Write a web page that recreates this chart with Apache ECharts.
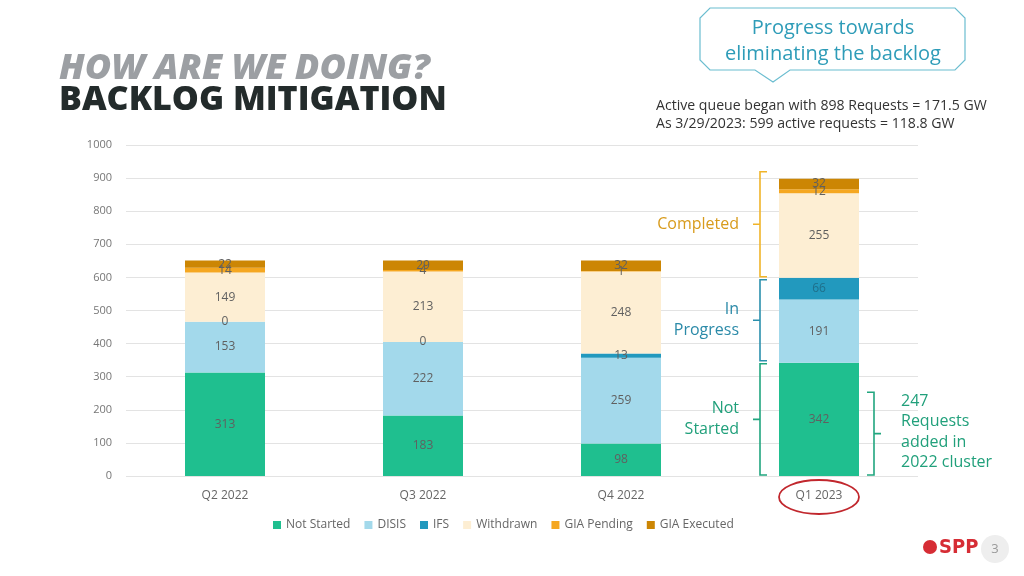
<!DOCTYPE html>
<html><head><meta charset="utf-8">
<script src="https://cdn.jsdelivr.net/npm/echarts@6/dist/echarts.min.js"></script>
<style>html,body{margin:0;padding:0;background:#fff}#c{width:1024px;height:576px}</style>
</head><body><div id="c"></div>
<script>
const categories = ['Q2 2022','Q3 2022','Q4 2022','Q1 2023'];
const notStarted = [313,183,98,342];
const disis = [153,222,259,191];
const ifs = [0,0,13,66];
const withdrawn = [149,213,248,255];
const giaPending = [14,4,1,12];
const giaExecuted = [22,29,32,32];
const seriesNames = ['Not Started','DISIS','IFS','Withdrawn','GIA Pending','GIA Executed'];
const seriesColors = ['#1fbf8f','#a3d9eb','#2299be','#fdeed3','#f5a721','#cc8604'];
const seriesData = [notStarted,disis,ifs,withdrawn,giaPending,giaExecuted];

const FONT = '"Open Sans","Noto Sans",sans-serif';
const chart = echarts.init(document.getElementById('c'));
const option = {
  animation:false,
  textStyle:{fontFamily:FONT},
  grid:{left:126,right:106,top:145,bottom:100},
  legend:{bottom:40,left:268,itemWidth:8,itemHeight:8,itemGap:14,icon:'rect',
    textStyle:{color:'#666',fontSize:12,fontFamily:FONT},data:seriesNames},
  xAxis:{type:'category',data:categories,axisLine:{show:false},axisTick:{show:false},
    axisLabel:{color:'#666',fontSize:12,margin:14,fontFamily:FONT}},
  yAxis:{type:'value',min:0,max:1000,interval:100,
    axisLabel:{color:'#777',fontSize:11,margin:14,fontFamily:FONT,formatter:v=>String(v)},
    splitLine:{lineStyle:{color:'#e3e3e3'}}},
  series: seriesNames.map((n,i)=>({
    name:n,type:'bar',stack:'t',barWidth:80,data:seriesData[i],
    itemStyle:{color:seriesColors[i]},
    label:{show:true,position:'inside',color:'#606060',fontSize:12,fontFamily:FONT,
      formatter:p=>String(p.value)}
  }))
};
chart.setOption(option);
chart.setOption({series:[{},{},{data:ifs.map(v=>v>=50?{value:v,label:{color:'#1f6f8a'}}:v)}]});

function py(v){return chart.convertToPixel({yAxisIndex:0},v);}
function px(c){return chart.convertToPixel({xAxisIndex:0},c);}

function brace(x, y1, y2, color, dir){
  const ym=(y1+y2)/2, e=7*(-dir), m=7*dir;
  return {type:'polyline',silent:true,
    shape:{points:[[x+e,y1],[x,y1],[x,ym],[x+m,ym],[x,ym],[x,y2],[x+e,y2]]},
    style:{stroke:color,lineWidth:1.6,fill:null}};
}
const tot = 342+191+66+255+12+32;
const bx = 760;
const y898=py(tot), y599=py(342+191+66), y342=py(342), y0=py(0);
const q1x = px('Q1 2023');
const elements = [
  {type:'text',x:59,y:69,style:{text:'HOW ARE WE DOING?',fill:'#9c9fa3',font:'italic 800 36px '+FONT,verticalAlign:'middle'}},
  {type:'text',x:59,y:100,style:{text:'BACKLOG MITIGATION',fill:'#232b2b',font:'800 34px '+FONT,verticalAlign:'middle'}},
  {type:'polygon',silent:true,shape:{points:[[710,8],[955,8],[965,18],[965,60],[955,70],[790,70],[773,82],[755,70],[710,70],[700,60],[700,18]]},
    style:{fill:'#fff',stroke:'#6bbdd0',lineWidth:1.2}},
  {type:'text',x:833,y:28,style:{text:'Progress towards',fill:'#2e9cb8',font:'20px '+FONT,align:'center',verticalAlign:'middle'}},
  {type:'text',x:833,y:54,style:{text:'eliminating the backlog',fill:'#2e9cb8',font:'20px '+FONT,align:'center',verticalAlign:'middle'}},
  {type:'text',x:656,y:106,style:{text:'Active queue began with 898 Requests = 171.5 GW',fill:'#333',font:'14.1px '+FONT,verticalAlign:'middle'}},
  {type:'text',x:656,y:124,style:{text:'As 3/29/2023: 599 active requests = 118.8 GW',fill:'#333',font:'14.1px '+FONT,verticalAlign:'middle'}},
  brace(bx, y898-7, y599-1, '#f0b429', -1),
  brace(bx, y599+2, y342-2, '#2b90ad', -1),
  brace(bx, y342+1, y0-1, '#21a67f', -1),
  {type:'text',x:739,y:(y898-7+y599)/2,style:{text:'Completed',fill:'#d89b1c',font:'16px '+FONT,align:'right',verticalAlign:'middle'}},
  {type:'text',x:739,y:(y599+y342)/2,style:{text:'In\nProgress',fill:'#2b8aa8',font:'16px '+FONT,align:'right',verticalAlign:'middle',lineHeight:21}},
  {type:'text',x:739,y:(y342+y0)/2,style:{text:'Not\nStarted',fill:'#21a07b',font:'16px '+FONT,align:'right',verticalAlign:'middle',lineHeight:21}},
  brace(874, py(253), y0-1, '#21a67f', 1),
  {type:'text',x:901,y:432,style:{text:'247\nRequests\nadded in\n2022 cluster',fill:'#21a07b',font:'16px '+FONT,verticalAlign:'middle',lineHeight:20.5}},
  {type:'ellipse',silent:true,shape:{cx:q1x,cy:497,rx:40,ry:17},style:{fill:null,stroke:'#c1272d',lineWidth:1.8}},
  {type:'circle',shape:{cx:930,cy:547,r:7},style:{fill:'#d62d35'}},
  {type:'text',x:939,y:548,style:{text:'SPP',fill:'#d62d35',font:'bold 20px "Liberation Sans Narrow","DejaVu Sans Condensed",sans-serif',verticalAlign:'middle'}},
  {type:'circle',shape:{cx:995,cy:549,r:14},style:{fill:'#eeeeee'}},
  {type:'text',x:995,y:549,style:{text:'3',fill:'#999',font:'13px '+FONT,align:'center',verticalAlign:'middle'}}
];
chart.setOption({graphic:{elements}});
</script></body></html>
